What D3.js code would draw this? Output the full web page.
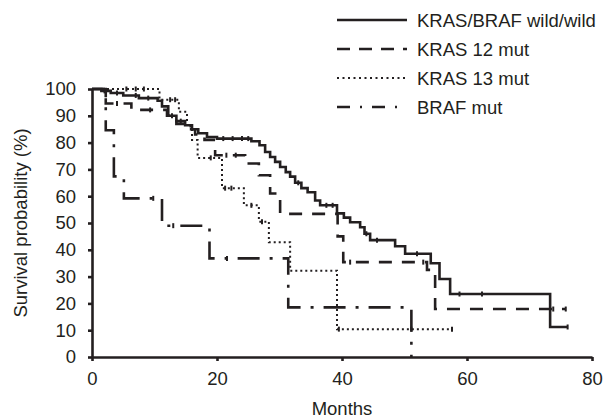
<!DOCTYPE html>
<html>
<head>
<meta charset="utf-8">
<script src="https://cdn.jsdelivr.net/npm/d3@7"></script>
<style>
  body { margin: 0; background: #fff; }
  text { font-family: "Liberation Sans", Arial, sans-serif; fill: #231f20; }
</style>
</head>
<body>
<svg id="km_chart"></svg>
<script>
// Kaplan-Meier curves: step times (months) and survival (%)
var wildTimes = [0, 1.5, 3, 5, 7.5, 10.5, 11.2, 12.2, 13.5, 14.9, 16, 17, 18.4, 20, 25.5, 26.8, 27.7, 28.5, 29.3, 30.1, 31, 31.7, 32.5, 33.5, 34.5, 35.7, 36.5, 39.2, 40.3, 41.3, 42.9, 43.6, 44.5, 48.5, 50.1, 54.2, 55.6, 57.3, 73.3]
var wildSurv = [100, 99.3, 98.5, 97.6, 96.6, 95.6, 93.5, 90, 88, 86.5, 85, 83.5, 82.1, 81.5, 80.5, 79, 76.5, 74.6, 72.8, 70.9, 69, 67.3, 65, 63, 61.5, 58.4, 56.6, 53.6, 52, 50.3, 48.4, 46, 43.6, 41.3, 38.5, 35, 29.1, 23.5, 11.2]
var wildEnd = 76.1
var wildCensor = [2, 4, 7, 9, 12.8, 14.2, 21, 22.5, 24, 25, 33, 37.5, 38.5, 43.9, 45.6, 52, 58.8, 62.4, 76.1]

var k12Times = [0, 2.2, 6.3, 12, 13.5, 15, 16.5, 18, 19.7, 24.5, 26.7, 28.5, 30.1, 39.3, 40.2, 53.6, 54.9]
var k12Surv = [100, 94.6, 92.2, 90, 87, 85, 83, 81, 75.3, 72.2, 67.8, 61, 53.4, 45, 35.4, 32.5, 17.9]
var k12End = 75.8
var k12Censor = [4, 9.3, 21.5, 23, 41.3, 53, 73.8, 75.8]

var k13Times = [0, 10.8, 13.9, 15.2, 16, 16.9, 20.8, 24.3, 26.7, 28.3, 31.7, 39.2]
var k13Surv = [100, 96, 91.5, 86, 81, 74.3, 63, 56.6, 50.5, 42.8, 32.2, 10.4]
var k13End = 57.6
var k13Censor = [5.5, 7, 8.3, 12.5, 13.3, 19, 21.3, 22.3, 25.5, 27.2, 39.5, 51.1, 57.6]

var brafTimes = [0, 2.2, 3.5, 5.1, 11.2, 18.8, 31.4, 51.1]
var brafSurv = [100, 84.6, 67.4, 59.2, 49, 36.8, 18.5, 0]
var brafEnd = 51.1
var brafCensor = [9.8, 13, 21.6]

var legendLabels = ["KRAS/BRAF wild/wild", "KRAS 12 mut", "KRAS 13 mut", "BRAF mut"]
var xTicks = [0, 20, 40, 60, 80]
var yTicks = [0, 10, 20, 30, 40, 50, 60, 70, 80, 90, 100]

var dimensions = {
  width: 611,
  height: 418,
  margin: { top: 89, bottom: 61, right: 19, left: 92 }
}
dimensions.boundedWidth = dimensions.width - dimensions.margin.left - dimensions.margin.right
dimensions.boundedHeight = dimensions.height - dimensions.margin.top - dimensions.margin.bottom

var ink = "#231f20"
var fontSize = "18.5px"

var series = [
  { label: legendLabels[0], times: wildTimes, surv: wildSurv, end: wildEnd, censor: wildCensor, dash: null, legendDash: null, width: 2.6 },
  { label: legendLabels[1], times: k12Times, surv: k12Surv, end: k12End, censor: k12Censor, dash: "13,10", legendDash: "13,9", width: 2.6 },
  { label: legendLabels[2], times: k13Times, surv: k13Surv, end: k13End, censor: k13Censor, dash: "2,3", legendDash: "2,3.5", width: 2 },
  { label: legendLabels[3], times: brafTimes, surv: brafSurv, end: brafEnd, censor: brafCensor, dash: "22,10,3,10", legendDash: "13,10,2,10", width: 2.6 }
]

var xScale = d3.scaleLinear().domain([0, 80]).range([0, dimensions.boundedWidth])
var yScale = d3.scaleLinear().domain([0, 100]).range([dimensions.boundedHeight, 0])

var svg = d3.select("#km_chart")
  .attr("width", dimensions.width)
  .attr("height", dimensions.height)

var bounds = svg.append("g")
  .attr("transform", `translate(${dimensions.margin.left},${dimensions.margin.top})`)

var stepLine = d3.line()
  .x(d => xScale(d[0]))
  .y(d => yScale(d[1]))
  .curve(d3.curveStepAfter)

function survAt(s, t) {
  var i = d3.bisectRight(s.times, t) - 1
  return s.surv[Math.max(0, i)]
}

series.forEach(s => {
  var pts = s.times.map((t, i) => [t, s.surv[i]])
  pts.push([s.end, s.surv[s.surv.length - 1]])
  bounds.append("path")
    .attr("d", stepLine(pts))
    .attr("fill", "none")
    .attr("stroke", ink)
    .attr("stroke-width", s.width)
    .attr("stroke-dasharray", s.dash)

  // censor marks
  bounds.selectAll(null)
    .data(s.censor)
    .enter()
    .append("line")
    .attr("x1", d => xScale(d))
    .attr("x2", d => xScale(d))
    .attr("y1", d => yScale(survAt(s, d)) - 2.5)
    .attr("y2", d => yScale(survAt(s, d)) + 2.5)
    .attr("stroke", ink)
    .attr("stroke-width", 2)
})

// axes
var xAxis = d3.axisBottom(xScale).tickValues(xTicks).tickSize(4).tickPadding(11).tickSizeOuter(0)
var yAxis = d3.axisLeft(yScale).tickValues(yTicks).tickSize(4).tickPadding(12).tickSizeOuter(0)

var gx = bounds.append("g")
  .attr("transform", `translate(0,${dimensions.boundedHeight})`)
  .call(xAxis)
var gy = bounds.append("g").call(yAxis)

;[gx, gy].forEach(g => {
  g.select(".domain").attr("stroke", ink).attr("stroke-width", 2.6)
  g.selectAll(".tick line").attr("stroke", ink).attr("stroke-width", 2.6)
  g.selectAll(".tick text").style("font-size", fontSize).style("font-family", "Liberation Sans, Arial, sans-serif").attr("fill", ink)
})

svg.append("text")
  .attr("x", dimensions.margin.left + dimensions.boundedWidth / 2)
  .attr("y", 415)
  .attr("text-anchor", "middle")
  .style("font-size", fontSize)
  .text("Months")

svg.append("text")
  .attr("transform", `translate(27,${dimensions.margin.top + dimensions.boundedHeight / 2}) rotate(-90)`)
  .attr("text-anchor", "middle")
  .style("font-size", fontSize)
  .text("Survival probability (%)")

// legend
var legend = svg.append("g")
var legendY = [20, 49, 78, 107]
series.forEach((s, i) => {
  legend.append("line")
    .attr("x1", 337)
    .attr("x2", 407)
    .attr("y1", legendY[i])
    .attr("y2", legendY[i])
    .attr("stroke", ink)
    .attr("stroke-width", s.width)
    .attr("stroke-dasharray", s.legendDash)
  legend.append("text")
    .attr("x", 417)
    .attr("y", legendY[i])
    .attr("dy", "0.36em")
    .style("font-size", fontSize)
    .text(s.label)
})
</script>
</body>
</html>
